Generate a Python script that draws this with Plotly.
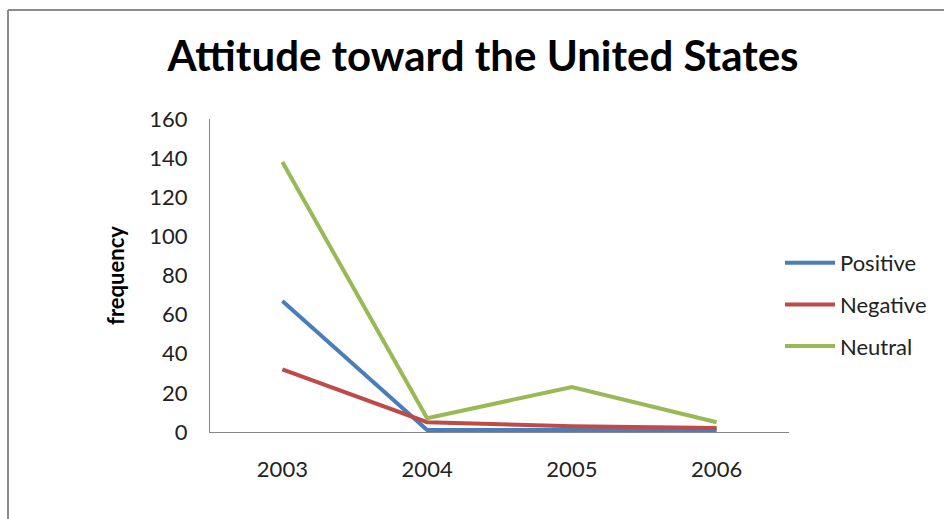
import plotly.graph_objects as go

years = ["2003", "2004", "2005", "2006"]
positive = [67, 1, 1, 1]
negative = [32, 5, 3, 2]
neutral = [138, 7, 23, 5]

series = [
    ("Positive", positive, "#4A7EBB"),
    ("Negative", negative, "#BE4B48"),
    ("Neutral", neutral, "#98B954"),
]

FONT = "Lato"
W, H = 944, 519
ML, MR, MT, MB = 210, 155, 119, 87
PW = W - ML - MR
PH = H - MT - MB

fig = go.Figure()
for i, (name, vals, color) in enumerate(series):
    fig.add_trace(go.Scatter(
        x=years, y=vals, name=name, mode="lines",
        line=dict(color=color, width=4),
        legendgroup=name,
    ))

def px_to_paper_x(px):
    return (px - ML) / PW

def px_to_paper_y(py):
    return (H - MB - py) / PH

# chart frame (top and left edges visible)
frame = dict(color="#8C8C8C", width=2)
fig.add_shape(type="line", xref="paper", yref="paper",
              x0=px_to_paper_x(8), x1=px_to_paper_x(W + 5),
              y0=px_to_paper_y(10), y1=px_to_paper_y(10), line=frame)
fig.add_shape(type="line", xref="paper", yref="paper",
              x0=px_to_paper_x(8), x1=px_to_paper_x(8),
              y0=px_to_paper_y(10), y1=px_to_paper_y(H + 5), line=frame)

fig.update_layout(
    width=W, height=H,
    margin=dict(l=ML, r=MR, t=MT, b=MB, pad=0),
    paper_bgcolor="white", plot_bgcolor="white",
    title=dict(text="<b>Attitude toward the United States</b>",
               x=(483) / W, xanchor="center", y=1 - 56 / H, yanchor="middle",
               font=dict(family=FONT, size=42, color="black")),
    xaxis=dict(type="category", range=[-0.5, 3.5], showgrid=False,
               showline=True, linecolor="#868686", linewidth=1,
               ticks="", tickfont=dict(family=FONT, size=22, color="#222"),
               ticklabelstandoff=18, zeroline=False),
    yaxis=dict(range=[0, 160], dtick=20, showgrid=False,
               showline=True, linecolor="#868686", linewidth=1,
               ticks="", tickfont=dict(family=FONT, size=22, color="#222"),
               ticklabelstandoff=17, zeroline=False,
               title=dict(text="<b>frequency</b>", standoff=18,
                          font=dict(family=FONT, size=22, color="black"))),
    legend=dict(x=px_to_paper_x(780), y=px_to_paper_y(242), xanchor="left", yanchor="top",
                font=dict(family=FONT, size=22, color="#222"),
                tracegroupgap=10, itemwidth=50, bgcolor="rgba(0,0,0,0)"),
    showlegend=True,
)

fig.write_html("out.html")
